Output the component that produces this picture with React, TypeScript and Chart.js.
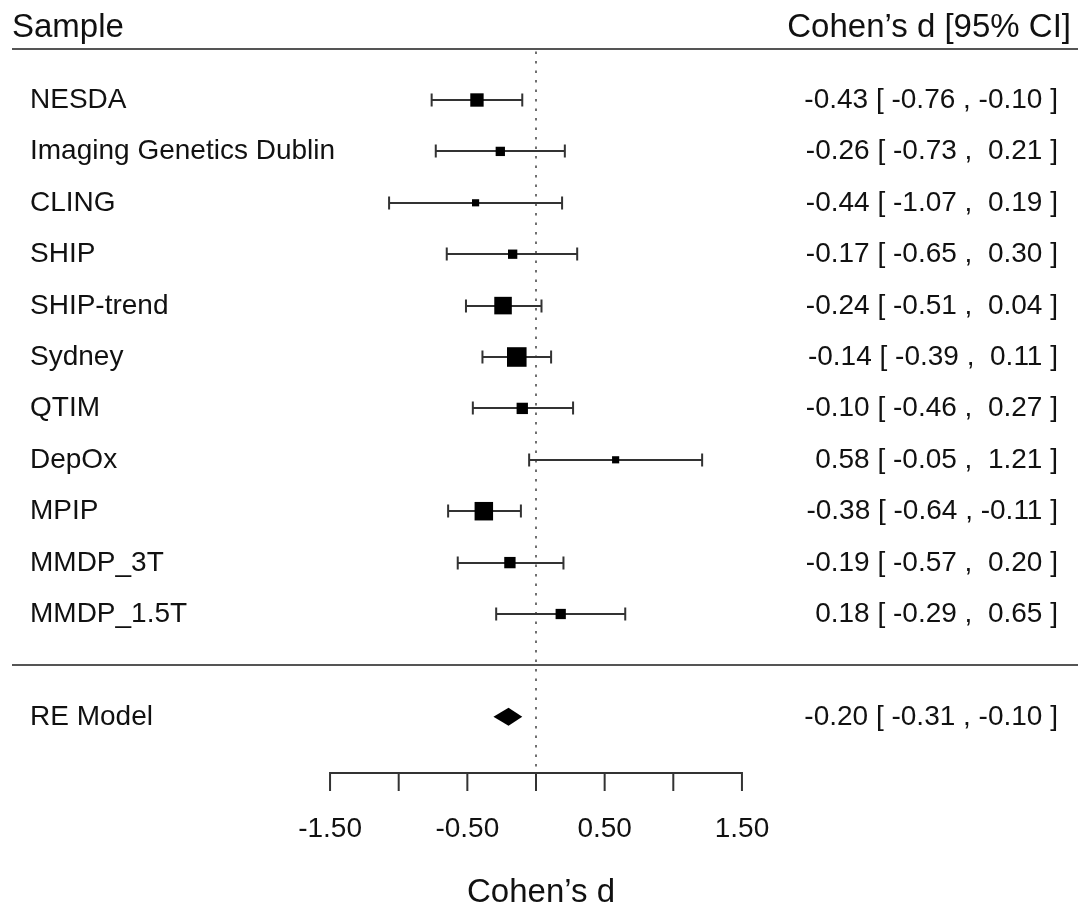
import { useEffect, useRef } from 'react';
import { Chart, registerables } from 'chart.js';

Chart.register(...registerables);

// ---------- data ----------
const studies = [
  'NESDA',
  'Imaging Genetics Dublin',
  'CLING',
  'SHIP',
  'SHIP-trend',
  'Sydney',
  'QTIM',
  'DepOx',
  'MPIP',
  'MMDP_3T',
  'MMDP_1.5T',
];
const estimates = [-0.43, -0.26, -0.44, -0.17, -0.24, -0.14, -0.1, 0.58, -0.38, -0.19, 0.18];
const lowerCI = [-0.76, -0.73, -1.07, -0.65, -0.51, -0.39, -0.46, -0.05, -0.64, -0.57, -0.29];
const upperCI = [-0.1, 0.21, 0.19, 0.3, 0.04, 0.11, 0.27, 1.21, -0.11, 0.2, 0.65];
// relative study weights (%)
const weights = [9.9, 6.9, 5.3, 6.9, 13.0, 14.5, 8.4, 5.3, 13.7, 8.4, 7.6];

const summaryLabel = 'RE Model';
const summaryEstimate = -0.2;
const summaryLower = -0.31;
const summaryUpper = -0.1;

const tickValues = [-1.5, -1.0, -0.5, 0, 0.5, 1.0, 1.5];
const tickLabels = ['-1.50', '', '-0.50', '', '0.50', '', '1.50'];

const headerLeft = 'Sample';
const headerRight = 'Cohen\u2019s d [95% CI]';
const axisTitle = 'Cohen\u2019s d';

// ---------- layout helpers ----------
const K = studies.length;
const studyRows = studies.map((_, i) => K - i); // 11..1
const headerRow = K + 1;
const separatorRow = 0;
const summaryRow = -1;
const refLineBottomRow = -2;
const axisRow = -2.1;

const FONT = '"Liberation Sans", Arial, Helvetica, sans-serif';

const fmt = (v: number) => (v < 0 ? '-' : ' ') + Math.abs(v).toFixed(2);
const annotation = (e: number, l: number, u: number) => `${fmt(e)} [ ${fmt(l)} , ${fmt(u)} ]`;

const forestPlugin = {
  id: 'forestPlugin',
  beforeDatasetsDraw(chart: any) {
    const { ctx, chartArea, scales } = chart;
    const x = scales.x;
    const y = scales.y;
    ctx.save();

    const left = chartArea.left + 12;
    const right = chartArea.right - 4;

    // header and separator lines
    ctx.strokeStyle = '#555555';
    ctx.lineWidth = 2;
    [headerRow, separatorRow].forEach((r) => {
      const py = Math.round(y.getPixelForValue(r));
      ctx.beginPath();
      ctx.moveTo(left, py);
      ctx.lineTo(right, py);
      ctx.stroke();
    });

    // dotted reference line at 0
    const x0 = x.getPixelForValue(0);
    ctx.strokeStyle = '#707070';
    ctx.lineWidth = 2;
    ctx.setLineDash([2.5, 7]);
    ctx.beginPath();
    ctx.moveTo(x0, y.getPixelForValue(headerRow) + 3);
    ctx.lineTo(x0, y.getPixelForValue(refLineBottomRow));
    ctx.stroke();
    ctx.setLineDash([]);

    // confidence intervals
    ctx.strokeStyle = '#333333';
    ctx.lineWidth = 2;
    studyRows.forEach((r, i) => {
      const py = Math.round(y.getPixelForValue(r));
      const xl = x.getPixelForValue(lowerCI[i]);
      const xu = x.getPixelForValue(upperCI[i]);
      ctx.beginPath();
      ctx.moveTo(xl, py);
      ctx.lineTo(xu, py);
      ctx.moveTo(xl, py - 6.5);
      ctx.lineTo(xl, py + 6.5);
      ctx.moveTo(xu, py - 6.5);
      ctx.lineTo(xu, py + 6.5);
      ctx.stroke();
    });
    ctx.restore();
  },
  afterDatasetsDraw(chart: any) {
    const { ctx, scales } = chart;
    const x = scales.x;
    const y = scales.y;
    ctx.save();

    // summary diamond
    const sy = y.getPixelForValue(summaryRow);
    ctx.fillStyle = '#000';
    ctx.beginPath();
    ctx.moveTo(x.getPixelForValue(summaryLower), sy);
    ctx.lineTo(x.getPixelForValue(summaryEstimate), sy - 9);
    ctx.lineTo(x.getPixelForValue(summaryUpper), sy);
    ctx.lineTo(x.getPixelForValue(summaryEstimate), sy + 9);
    ctx.closePath();
    ctx.fill();

    // x axis
    const ay = Math.round(y.getPixelForValue(axisRow));
    const axL = x.getPixelForValue(tickValues[0]);
    const axR = x.getPixelForValue(tickValues[tickValues.length - 1]);
    ctx.strokeStyle = '#333';
    ctx.lineWidth = 2;
    ctx.beginPath();
    ctx.moveTo(axL, ay);
    ctx.lineTo(axR, ay);
    tickValues.forEach((v) => {
      const px = x.getPixelForValue(v);
      ctx.moveTo(px, ay - 1);
      ctx.lineTo(px, ay + 18);
    });
    ctx.stroke();

    ctx.fillStyle = '#111';
    ctx.textBaseline = 'alphabetic';
    ctx.font = `28px ${FONT}`;
    ctx.textAlign = 'center';
    tickValues.forEach((v, i) => {
      if (tickLabels[i]) ctx.fillText(tickLabels[i], x.getPixelForValue(v), ay + 64);
    });

    ctx.font = `33px ${FONT}`;
    ctx.fillText(axisTitle, x.getPixelForValue(0) + 5, ay + 129);

    // headers
    const hy = y.getPixelForValue(headerRow);
    ctx.textAlign = 'left';
    ctx.fillText(headerLeft, 12, hy - 12);
    ctx.textAlign = 'right';
    ctx.fillText(headerRight, chart.chartArea.right - 11, hy - 12);

    // study labels and annotations
    ctx.font = `28px ${FONT}`;
    studyRows.forEach((r, i) => {
      const py = y.getPixelForValue(r) + 8;
      ctx.textAlign = 'left';
      ctx.fillText(studies[i], 30, py);
      ctx.textAlign = 'right';
      ctx.fillText(annotation(estimates[i], lowerCI[i], upperCI[i]), chart.chartArea.right - 24, py);
    });
    ctx.textAlign = 'left';
    ctx.fillText(summaryLabel, 30, sy + 8);
    ctx.textAlign = 'right';
    ctx.fillText(annotation(summaryEstimate, summaryLower, summaryUpper), chart.chartArea.right - 24, sy + 8);

    ctx.restore();
  },
};

export default function App() {
  const canvasRef = useRef<HTMLCanvasElement | null>(null);

  useEffect(() => {
    document.body.style.margin = '0';
    const canvas = canvasRef.current;
    if (!canvas) return;

    const W = 1082;
    const H = 906;
    const pxPerUnit = 137.3;
    const zeroX = 536;
    const rowH = 51.4;
    const row1Y = 614;

    const yMax = 1 + row1Y / rowH;
    const yMin = yMax - H / rowH;
    const xMin = -zeroX / pxPerUnit;
    const xMax = (W - zeroX) / pxPerUnit;

    const chart = new Chart(canvas, {
      type: 'scatter',
      data: {
        datasets: [
          {
            label: 'Studies',
            data: estimates.map((e, i) => ({ x: e, y: studyRows[i] })),
            pointStyle: 'rect',
            pointRadius: weights.map((w) => (w * 1.35) / Math.SQRT2),
            pointHoverRadius: weights.map((w) => (w * 1.35) / Math.SQRT2),
            backgroundColor: '#000',
            borderColor: '#000',
            pointBorderWidth: 0,
            borderWidth: 0,
          },
        ],
      },
      options: {
        animation: false,
        responsive: false,
        events: [],
        layout: { padding: 0, autoPadding: false },
        plugins: {
          legend: { display: false },
          tooltip: { enabled: false },
        },
        scales: {
          x: { type: 'linear', min: xMin, max: xMax, display: false },
          y: { type: 'linear', min: yMin, max: yMax, display: false },
        },
      },
      plugins: [forestPlugin],
    });

    return () => {
      chart.destroy();
    };
  }, []);

  return (
    <div style={{ width: 1082, height: 906, background: '#fff' }}>
      <canvas ref={canvasRef} width={1082} height={906} style={{ display: 'block' }} />
    </div>
  );
}
